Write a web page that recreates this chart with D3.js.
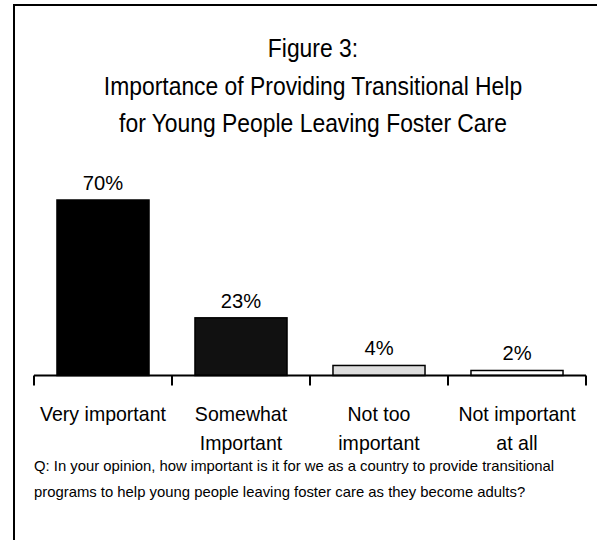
<!DOCTYPE html>
<html><head><meta charset="utf-8">
<script src="https://cdn.jsdelivr.net/npm/d3@7"></script>
<style>
html,body{margin:0;padding:0;background:#fff;}
svg{display:block;}
text{font-family:"Liberation Sans Narrow","Arial Narrow","Liberation Sans",Arial,sans-serif;fill:#000;}
</style></head>
<body>
<svg id="chart" width="597" height="540"></svg>
<script>
const categories = [["Very important"], ["Somewhat", "Important"], ["Not too", "important"], ["Not important", "at all"]];
const values = [70, 23, 4, 2];
const valueLabels = ["70%", "23%", "4%", "2%"];
const barColors = ["#000000", "#111111", "#dddddd", "#ffffff"];
const titleLines = ["Figure 3:", "Importance of Providing Transitional Help", "for Young People Leaving Foster Care"];
const noteLines = ["Q: In your opinion, how important is it for we as a country to provide transitional", "programs to help young people leaving foster care as they become adults?"];

const svg = d3.select("#chart");

// condense text horizontally (narrow face emulation)
function condense(sel, f) {
  sel.each(function () {
    const w = this.getComputedTextLength();
    d3.select(this).attr("textLength", w * f).attr("lengthAdjust", "spacingAndGlyphs");
  });
}

// frame (extends beyond the visible area on right and bottom)
svg.append("rect").attr("x", 14).attr("y", 5).attr("width", 700).attr("height", 700)
  .attr("fill", "none").attr("stroke", "#000").attr("stroke-width", 2);

const x = d3.scaleBand().domain(d3.range(categories.length)).range([34, 586]).paddingInner(0.333).paddingOuter(0.1665);
const y = d3.scaleLinear().domain([0, 70]).range([375.5, 200]);

// title
svg.append("g").selectAll("text").data(titleLines).join("text")
  .attr("x", 313).attr("y", (d, i) => 57 + i * 37.5)
  .attr("text-anchor", "middle").attr("font-size", 25).text(d => d)
  .call(condense, 0.915);

// bars
svg.append("g").selectAll("rect").data(values).join("rect")
  .attr("x", (d, i) => x(i)).attr("width", x.bandwidth())
  .attr("y", d => y(d)).attr("height", d => y(0) - y(d))
  .attr("fill", (d, i) => barColors[i]).attr("stroke", "#000").attr("stroke-width", 1.5);

// value labels
svg.append("g").selectAll("text").data(values).join("text")
  .attr("x", (d, i) => x(i) + x.bandwidth() / 2).attr("y", d => y(d) - 10)
  .attr("text-anchor", "middle").attr("font-size", 21).text((d, i) => valueLabels[i])
  .call(condense, 0.96);

// axis baseline with ticks at band boundaries
const axisG = svg.append("g");
axisG.append("line").attr("x1", 34).attr("x2", 586).attr("y1", y(0)).attr("y2", y(0))
  .attr("stroke", "#000").attr("stroke-width", 2);
const bounds = d3.range(categories.length + 1).map(i => 34 + i * x.step());
axisG.selectAll("line.tick").data(bounds).join("line").attr("class", "tick")
  .attr("x1", d => d).attr("x2", d => d).attr("y1", y(0)).attr("y2", y(0) + 10)
  .attr("stroke", "#000").attr("stroke-width", 2);

// category labels
const catLines = categories.flatMap((lines, i) => lines.map((t, j) => ({t, i, j})));
svg.append("g").selectAll("text").data(catLines).join("text")
  .attr("text-anchor", "middle").attr("font-size", 21)
  .attr("x", d => x(d.i) + x.bandwidth() / 2)
  .attr("y", d => 421 + d.j * 29).text(d => d.t)
  .call(condense, 0.93);

// note
svg.append("g").selectAll("text").data(noteLines).join("text")
  .attr("x", 34).attr("y", (d, i) => 471 + i * 26)
  .attr("font-size", 15).text(d => d)
  .call(condense, 0.99);
</script>
</body></html>
